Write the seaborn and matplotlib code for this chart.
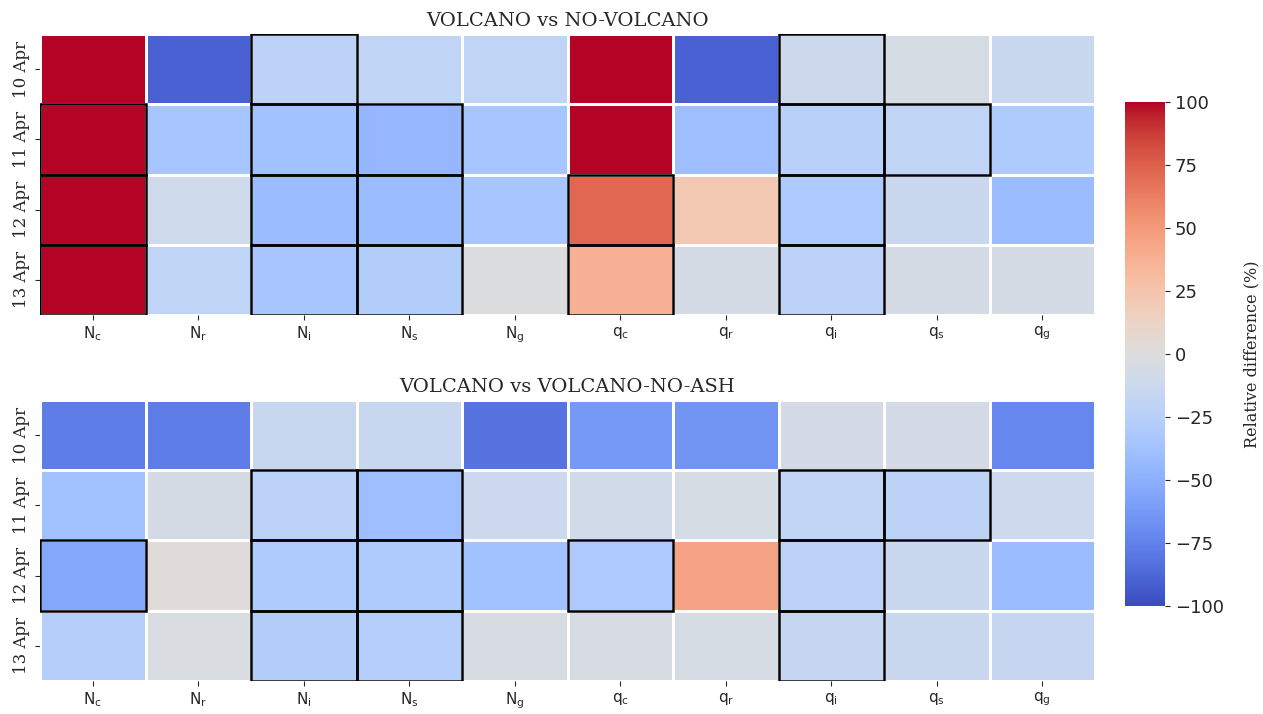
"""Relative difference heatmaps for the volcano sensitivity runs."""

import matplotlib.pyplot as plt
import numpy as np
import pandas as pd
import seaborn as sns
from matplotlib.patches import Rectangle

days = ["10 Apr", "11 Apr", "12 Apr", "13 Apr"]
variables = ["N_c", "N_r", "N_i", "N_s", "N_g", "q_c", "q_r", "q_i", "q_s", "q_g"]
var_labels = [r"$\mathrm{" + v + "}$" for v in variables]

# VOLCANO vs NO-VOLCANO, relative difference (%)
diff_no_volcano = [
    [100, -90, -22, -20, -20, 100, -90, -12, -5, -14],
    [100, -35, -38, -45, -35, 100, -40, -25, -20, -30],
    [100, -10, -42, -42, -35, 72, 22, -32, -14, -42],
    [100, -20, -35, -28, -1, 38, -6, -22, -6, -6],
]
signif_no_volcano = [
    [0, 0, 1, 0, 0, 0, 0, 1, 0, 0],
    [1, 0, 1, 1, 0, 0, 0, 1, 1, 0],
    [1, 0, 1, 1, 0, 1, 0, 1, 0, 0],
    [1, 0, 1, 1, 0, 1, 0, 1, 0, 0],
]

# VOLCANO vs VOLCANO-NO-ASH, relative difference (%)
diff_no_ash = [
    [-77, -77, -15, -15, -82, -63, -65, -7, -7, -72],
    [-38, -6, -22, -40, -13, -9, -5, -18, -22, -11],
    [-55, 3, -30, -30, -38, -32, 45, -22, -14, -42],
    [-26, -3, -28, -27, -4, -4, -5, -17, -14, -16],
]
signif_no_ash = [
    [0, 0, 0, 0, 0, 0, 0, 0, 0, 0],
    [0, 0, 1, 1, 0, 0, 0, 1, 1, 0],
    [1, 0, 1, 1, 0, 1, 0, 1, 0, 0],
    [0, 0, 1, 1, 0, 0, 0, 1, 0, 0],
]

titles = ["VOLCANO vs NO-VOLCANO", "VOLCANO vs VOLCANO-NO-ASH"]

sns.set_style("ticks")
plt.rcParams["mathtext.fontset"] = "dejavusans"

fig = plt.figure(figsize=(12.63, 7.14), dpi=100)
ax_top = fig.add_axes([0.0317, 0.5588, 0.8353, 0.3936])
ax_bot = fig.add_axes([0.0317, 0.0462, 0.8353, 0.3936])
cax = fig.add_axes([0.8907, 0.1513, 0.0317, 0.7059])

panels = [
    (ax_top, diff_no_volcano, signif_no_volcano),
    (ax_bot, diff_no_ash, signif_no_ash),
]

for k, (ax, values, signif) in enumerate(panels):
    frame = pd.DataFrame(values, index=days, columns=var_labels)
    sns.heatmap(
        frame,
        ax=ax,
        cmap="coolwarm",
        vmin=-100,
        vmax=100,
        linewidths=0.9,
        linecolor="white",
        cbar=(k == 0),
        cbar_ax=cax if k == 0 else None,
    )
    mask = np.asarray(signif, dtype=bool)
    for i, j in zip(*np.nonzero(mask)):
        ax.add_patch(Rectangle((j, i), 1, 1, fill=False,
                               edgecolor="black", linewidth=1.8))
    ax.set_title(titles[k], family="DejaVu Serif", fontsize=14)
    ax.set_xlabel("")
    ax.set_ylabel("")
    ax.tick_params(axis="x", labelsize=11, rotation=0)
    ax.set_yticklabels(days, rotation=90, va="center",
                       family="DejaVu Serif", fontsize=12)

cax.tick_params(labelsize=13)
cax.set_ylabel("Relative difference (%)", family="DejaVu Serif", fontsize=11.5,
               labelpad=14)
cax.set_yticks([-100, -75, -50, -25, 0, 25, 50, 75, 100])

fig.savefig("out.png", dpi=100)
plt.close(fig)
